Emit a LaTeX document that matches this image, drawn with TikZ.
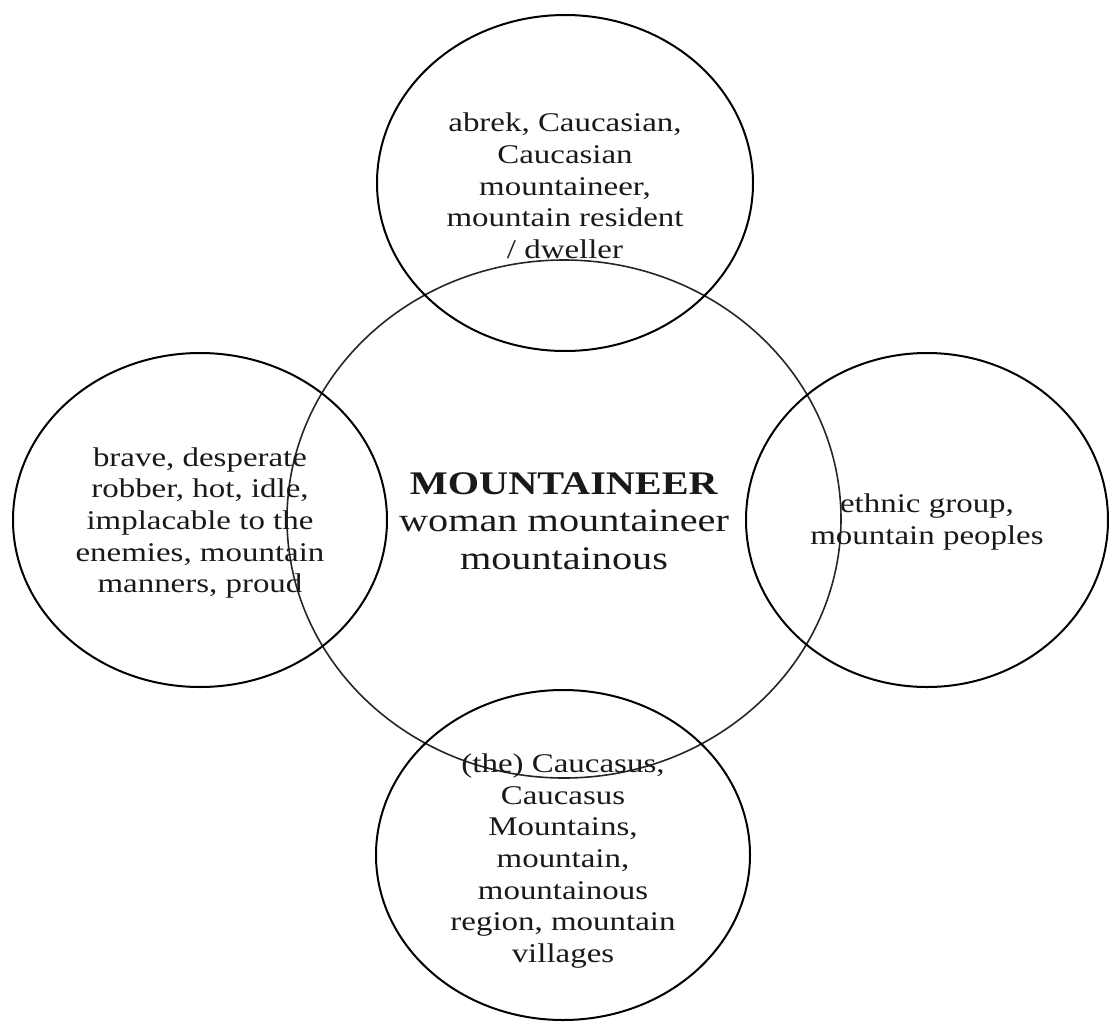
\documentclass[tikz,border=0pt]{standalone}
\usepackage{fontspec}
\setmainfont[FakeStretch=1.22]{Liberation Serif}
\usetikzlibrary{shapes.geometric}
\tikzset{
  bubble/.style={draw=black, ellipse, line width=1pt, inner sep=0pt, outer sep=0pt},
  core/.style={draw=black!85, ellipse, line width=0.8pt, inner sep=0pt, outer sep=0pt},
  outertxt/.style={align=center, inner sep=0pt, font=\fontsize{13.5pt}{15.85pt}\selectfont, text=black!90},
  coretxt/.style={align=center, inner sep=0pt, font=\fontsize{16.5pt}{18.8pt}\selectfont, text=black!90}
}
\begin{document}
\begin{tikzpicture}[x=0.5pt,y=-0.5pt]
\useasboundingbox (0,0) rectangle (1109,1023);
\node[core, minimum width=277pt, minimum height=259pt] (c) at (564,519) {};
\node[bubble, minimum width=188pt, minimum height=168pt] (top) at (565,183) {};
\node[bubble, minimum width=187pt, minimum height=167pt] (left) at (200,520) {};
\node[bubble, minimum width=181pt, minimum height=167pt] (right) at (927,520) {};
\node[bubble, minimum width=187pt, minimum height=165pt] (bottom) at (563,855) {};

\node[coretxt] (ct) at ([yshift=-1pt]c.center) {\textbf{MOUNTAINEER}\\woman mountaineer\\mountainous};
\node[outertxt] (tt) at ([yshift=-1.5pt]top.center) {abrek, Caucasian,\\Caucasian\\mountaineer,\\mountain resident\\/ dweller};
\node[outertxt] (lt) at ([yshift=-1.5pt]left.center) {brave, desperate\\robber, hot, idle,\\implacable to the\\enemies, mountain\\manners, proud};
\node[outertxt] (rt) at ([yshift=-1pt]right.center) {ethnic group,\\mountain peoples};
\node[outertxt] (bt) at ([yshift=-3pt]bottom.center) {(the) Caucasus,\\Caucasus\\Mountains,\\mountain,\\mountainous\\region, mountain\\villages};
\end{tikzpicture}
\end{document}
